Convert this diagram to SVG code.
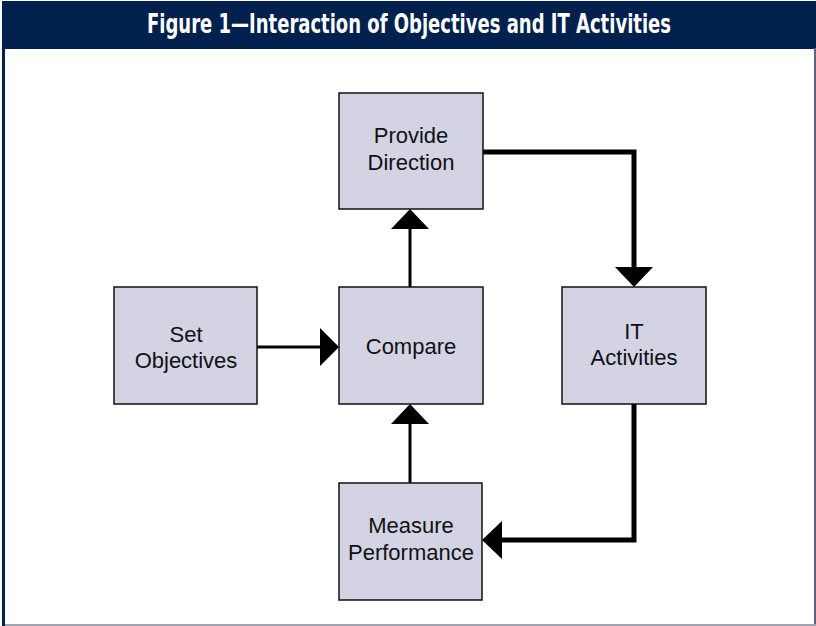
<svg xmlns="http://www.w3.org/2000/svg" width="816" height="626" viewBox="0 0 816 626">
<style>
.node rect{fill:#d3d3e4;stroke:#111;stroke-width:1.5}
.node text{font-family:"Liberation Sans",Arial,sans-serif;font-size:22px;fill:#111;text-anchor:middle}
.thin{stroke:#000;stroke-width:3;fill:none}
.thick{stroke:#000;stroke-width:5;fill:none}
.head{fill:#000}
</style>
<rect x="0" y="0" width="816" height="626" fill="#fff"/>
<rect x="2" y="1" width="814" height="48" fill="#00204e"/>
<rect x="2" y="48" width="3" height="578" fill="#00204e"/>
<rect x="814" y="48" width="2" height="578" fill="#5a6580"/>
<rect x="5" y="624" width="811" height="2" fill="#a0a4b0"/>
<text x="409" y="33" font-family="'Liberation Sans Narrow','DejaVu Sans Condensed',sans-serif" font-weight="bold" font-size="26" fill="#fff" text-anchor="middle" textLength="524" lengthAdjust="spacingAndGlyphs">Figure 1—Interaction of Objectives and IT Activities</text>
<g id="connectors">
<line class="thin" x1="410" y1="287" x2="410" y2="226"/>
<polygon class="head" points="410,209 391,229 429,229"/>
<line class="thin" x1="257" y1="347" x2="322" y2="347"/>
<polygon class="head" points="339,347 320,328 320,366"/>
<line class="thin" x1="410" y1="483" x2="410" y2="420"/>
<polygon class="head" points="410,404 391,424 429,424"/>
<polyline class="thick" points="483,152 634,152 634,270"/>
<polygon class="head" points="634,287 615,267 653,267"/>
<polyline class="thick" points="634,404 634,540 498,540"/>
<polygon class="head" points="482,540 502,521 502,559"/>
</g>
<g id="provide" class="node"><rect x="339" y="93" width="144" height="116"/><text x="411" y="143">Provide</text><text x="411" y="170">Direction</text></g>
<g id="set" class="node"><rect x="114" y="287" width="143" height="117"/><text x="186" y="342">Set</text><text x="186" y="368">Objectives</text></g>
<g id="compare" class="node"><rect x="339" y="287" width="144" height="117"/><text x="411" y="354">Compare</text></g>
<g id="it" class="node"><rect x="562" y="287" width="144" height="117"/><text x="634" y="339">IT</text><text x="634" y="365">Activities</text></g>
<g id="measure" class="node"><rect x="339" y="483" width="143" height="117"/><text x="411" y="533">Measure</text><text x="411" y="560">Performance</text></g>
</svg>
